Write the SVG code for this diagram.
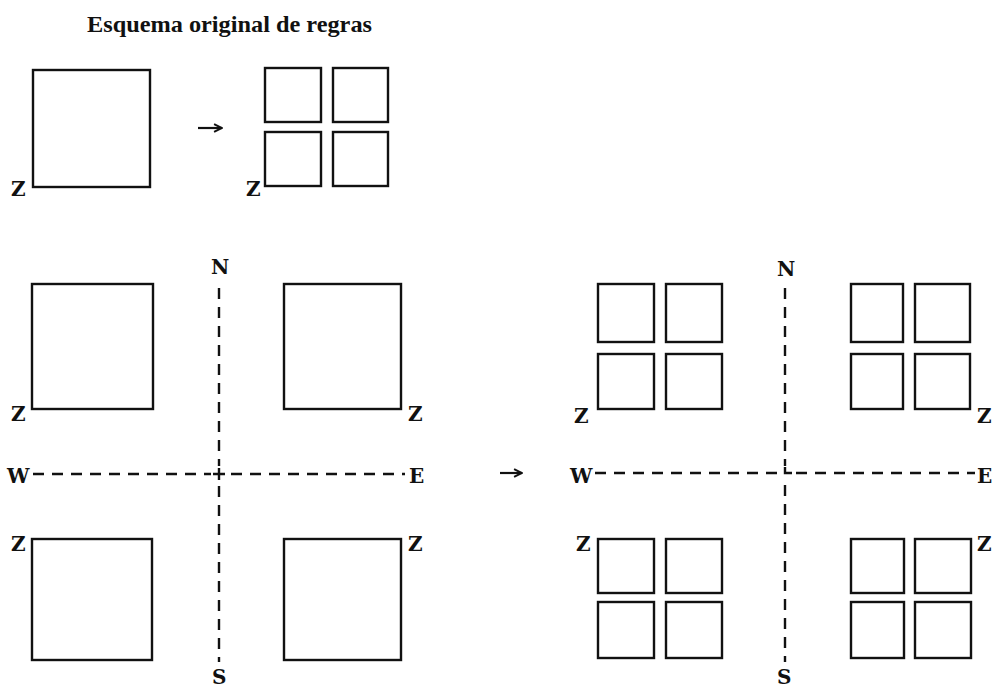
<svg xmlns="http://www.w3.org/2000/svg" width="992" height="688" viewBox="0 0 992 688">
<defs>
<style>
.box{fill:none;stroke:#111;stroke-width:2.4}
.axis{fill:none;stroke:#111;stroke-width:2.4;stroke-dasharray:11 8}
.tick{fill:none;stroke:#111;stroke-width:2.4}
.arr{fill:none;stroke:#111;stroke-width:2.2}
.lbl{font-family:"DejaVu Serif","Liberation Serif",serif;font-weight:bold;font-size:20px;fill:#111}
.title{font-family:"Liberation Serif","Times New Roman",serif;font-weight:bold;font-size:24px;fill:#111}
</style>
<marker id="ah" viewBox="0 0 10 10" refX="9" refY="5" markerWidth="4.5" markerHeight="4.5" orient="auto" markerUnits="strokeWidth">
<path d="M1,1 L9,5 L1,9" fill="none" stroke="#111" stroke-width="2"/>
</marker>
</defs>
<rect width="992" height="688" fill="#fff"/>
<text class="title" x="87" y="32" textLength="285" lengthAdjust="spacingAndGlyphs">Esquema original de regras</text>

<g id="rule-lhs">
<rect class="box" x="33" y="70" width="117" height="117"/>
<text class="lbl" x="11" y="196">Z</text>
</g>
<g id="rule-rhs">
<rect class="box" x="265" y="68" width="56" height="54"/>
<rect class="box" x="333" y="68" width="55" height="54"/>
<rect class="box" x="265" y="132" width="56" height="54"/>
<rect class="box" x="333" y="132" width="55" height="54"/>
<text class="lbl" x="246" y="196">Z</text>
</g>

<g id="left-NW">
<rect class="box" x="32" y="284" width="121" height="125"/>
<text class="lbl" x="11" y="421">Z</text>
</g>
<g id="left-NE">
<rect class="box" x="284" y="284" width="117" height="125"/>
<text class="lbl" x="408" y="421">Z</text>
</g>
<g id="left-SW">
<rect class="box" x="32" y="539" width="120" height="121"/>
<text class="lbl" x="11" y="551">Z</text>
</g>
<g id="left-SE">
<rect class="box" x="284" y="539" width="117" height="121"/>
<text class="lbl" x="408" y="551">Z</text>
</g>
<g id="left-compass">
<text class="lbl" x="211" y="274">N</text>
<text class="lbl" x="212" y="684">S</text>
<text class="lbl" x="7" y="483">W</text>
<text class="lbl" x="409" y="483">E</text>
</g>

<g id="right-NW">
<rect class="box" x="598" y="284" width="56" height="58"/>
<rect class="box" x="666" y="284" width="56" height="58"/>
<rect class="box" x="598" y="354" width="56" height="55"/>
<rect class="box" x="666" y="354" width="56" height="55"/>
<text class="lbl" x="574" y="423">Z</text>
</g>
<g id="right-NE">
<rect class="box" x="851" y="284" width="52" height="58"/>
<rect class="box" x="915" y="284" width="55" height="58"/>
<rect class="box" x="851" y="354" width="52" height="55"/>
<rect class="box" x="915" y="354" width="55" height="55"/>
<text class="lbl" x="977" y="423">Z</text>
</g>
<g id="right-SW">
<rect class="box" x="598" y="539" width="56" height="54"/>
<rect class="box" x="666" y="539" width="56" height="54"/>
<rect class="box" x="598" y="602" width="56" height="56"/>
<rect class="box" x="666" y="602" width="56" height="56"/>
<text class="lbl" x="576" y="551">Z</text>
</g>
<g id="right-SE">
<rect class="box" x="851" y="539" width="53" height="54"/>
<rect class="box" x="915" y="539" width="56" height="54"/>
<rect class="box" x="851" y="602" width="53" height="56"/>
<rect class="box" x="915" y="602" width="56" height="56"/>
<text class="lbl" x="977" y="551">Z</text>
</g>
<g id="right-compass">
<text class="lbl" x="777" y="276">N</text>
<text class="lbl" x="777" y="684">S</text>
<text class="lbl" x="570" y="483">W</text>
<text class="lbl" x="977" y="483">E</text>
</g>

<g id="connectors">
<line class="axis" x1="219" y1="285" x2="219" y2="466" stroke-dashoffset="-3"/>
<line class="axis" x1="219" y1="482" x2="219" y2="662" stroke-dashoffset="-4"/>
<line class="axis" x1="31" y1="474" x2="211" y2="474" stroke-dashoffset="-2"/>
<line class="axis" x1="227" y1="474" x2="405" y2="474" stroke-dashoffset="-4"/>
<path class="tick" d="M213,474 H225 M219,468 V480"/>
<line class="axis" x1="785" y1="285" x2="785" y2="466" stroke-dashoffset="-3"/>
<line class="axis" x1="785" y1="481" x2="785" y2="662" stroke-dashoffset="-4"/>
<line class="axis" x1="593" y1="473" x2="778" y2="473" stroke-dashoffset="-2"/>
<line class="axis" x1="792" y1="473" x2="975" y2="473" stroke-dashoffset="-4"/>
<path class="tick" d="M785,467 V473 H792"/>
<line class="arr" x1="198" y1="128" x2="222" y2="128" marker-end="url(#ah)"/>
<line class="arr" x1="500" y1="473" x2="522" y2="473" marker-end="url(#ah)"/>
</g>
</svg>
